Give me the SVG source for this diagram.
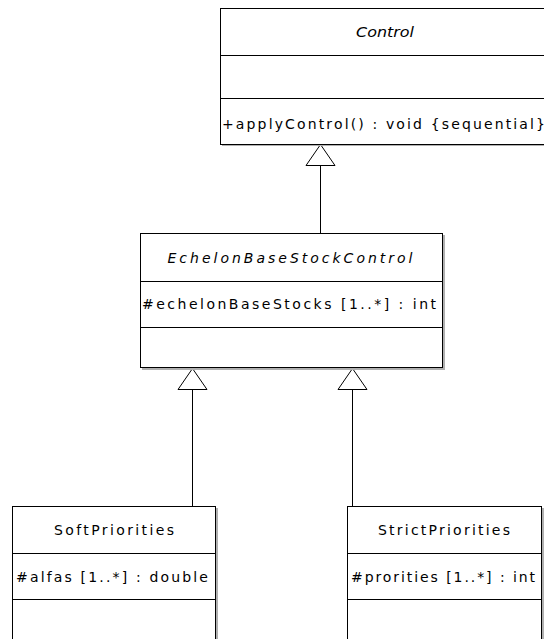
<svg xmlns="http://www.w3.org/2000/svg" width="544" height="639" viewBox="0 0 544 639">
  <style>
    .shadow { fill: #b0b0b0; }
    .box { fill: #ffffff; stroke: #000000; stroke-width: 1; }
    .sep { stroke: #000000; stroke-width: 1; }
    .edge { fill: none; stroke: #000000; stroke-width: 1; }
    .head { fill: #ffffff; stroke: #000000; stroke-width: 1; }
    text { font-family: "DejaVu Sans", "Liberation Sans", sans-serif; font-size: 14px; fill: #000000; }
    .name { text-anchor: middle; }
    .abstract { font-style: italic; }
  </style>
  <rect width="544" height="639" fill="#ffffff"/>

  <!-- generalisation connectors -->
  <g id="connectors">
    <line class="edge" x1="320.5" y1="165" x2="320.5" y2="233"/>
    <polygon class="head" points="320.5,144.5 306,165.5 335,165.5"/>
    <line class="edge" x1="192.5" y1="389" x2="192.5" y2="506"/>
    <polygon class="head" points="192.5,368.5 178,389.5 207,389.5"/>
    <line class="edge" x1="352.5" y1="389" x2="352.5" y2="506"/>
    <polygon class="head" points="352.5,368.5 338,389.5 367,389.5"/>
  </g>

  <!-- abstract base class -->
  <g id="Control">
    <rect class="shadow" x="222" y="10" width="330" height="136"/>
    <rect class="box" x="220.5" y="8.5" width="330" height="136"/>
    <line class="sep" x1="220.5" y1="55.5" x2="550.5" y2="55.5"/>
    <line class="sep" x1="220.5" y1="98.5" x2="550.5" y2="98.5"/>
    <text class="name abstract" x="385" y="37" textLength="58" lengthAdjust="spacingAndGlyphs">Control</text>
    <text x="222" y="129" textLength="323" lengthAdjust="spacing">+applyControl() : void {sequential}</text>
  </g>

  <g id="EchelonBaseStockControl">
    <rect class="shadow" x="142" y="235" width="303" height="135"/>
    <rect class="box" x="140.5" y="233.5" width="302" height="134"/>
    <line class="sep" x1="140.5" y1="281.5" x2="442.5" y2="281.5"/>
    <line class="sep" x1="140.5" y1="327.5" x2="442.5" y2="327.5"/>
    <text class="name abstract" x="290" y="263" textLength="245" lengthAdjust="spacing">EchelonBaseStockControl</text>
    <text x="142" y="309" textLength="294" lengthAdjust="spacing">#echelonBaseStocks [1..*] : int</text>
  </g>

  <g id="SoftPriorities">
    <rect class="shadow" x="14" y="508" width="204" height="140"/>
    <rect class="box" x="12.5" y="506.5" width="203" height="140"/>
    <line class="sep" x1="12.5" y1="553.5" x2="215.5" y2="553.5"/>
    <line class="sep" x1="12.5" y1="599.5" x2="215.5" y2="599.5"/>
    <text class="name" x="114" y="535" textLength="120" lengthAdjust="spacing">SoftPriorities</text>
    <text x="16" y="582" textLength="192" lengthAdjust="spacing">#alfas [1..*] : double</text>
  </g>

  <g id="StrictPriorities">
    <rect class="shadow" x="349" y="508" width="195" height="140"/>
    <rect class="box" x="347.5" y="506.5" width="194" height="140"/>
    <line class="sep" x1="347.5" y1="553.5" x2="541.5" y2="553.5"/>
    <line class="sep" x1="347.5" y1="599.5" x2="541.5" y2="599.5"/>
    <text class="name" x="444" y="535" textLength="132" lengthAdjust="spacing">StrictPriorities</text>
    <text x="351" y="582" textLength="184" lengthAdjust="spacing">#prorities [1..*] : int</text>
  </g>
</svg>
